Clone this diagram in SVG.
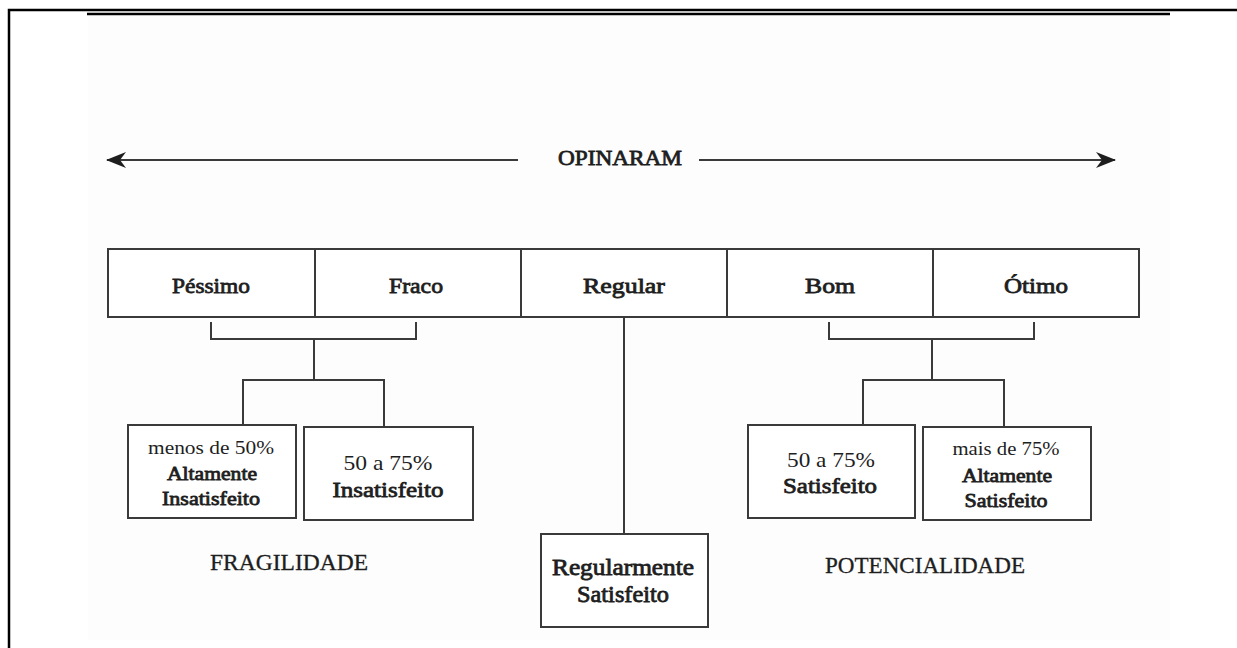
<svg xmlns="http://www.w3.org/2000/svg" width="1237" height="648" viewBox="0 0 1237 648">
<defs>
<style>
.ln{stroke:#3a3a3a;stroke-width:2;fill:none}
.bx{stroke:#3a3a3a;stroke-width:2;fill:#ffffff}
text{font-family:'Liberation Serif','Times New Roman',Times,serif;fill:#1e1e1e;text-anchor:middle;font-weight:normal}
.b{stroke:#1e1e1e;stroke-width:0.8px}
.h{font-size:22px;stroke:#1e1e1e;stroke-width:0.8px}
.m{stroke:#1e1e1e;stroke-width:0.3px}
</style>
<marker id="ah" viewBox="0 0 20 16" refX="19" refY="8" markerWidth="20" markerHeight="16" markerUnits="userSpaceOnUse" orient="auto-start-reverse">
<path d="M0,0 L20,8 L0,16 L6,8 Z" fill="#1e1e1e"/>
</marker>
</defs>
<rect x="0" y="0" width="1237" height="648" fill="#ffffff"/>
<rect x="88" y="16" width="1082" height="624" fill="#fdfdfd"/>
<g id="frame">
<path d="M9,648 V10 H1237" stroke="#000" stroke-width="2.5" fill="none"/>
<line x1="87" y1="14" x2="1170" y2="14" stroke="#000" stroke-width="2.5"/>
</g>
<g id="connectors">
<line class="ln" x1="518" y1="160" x2="107" y2="160" marker-end="url(#ah)"/>
<line class="ln" x1="699" y1="160" x2="1115" y2="160" marker-end="url(#ah)"/>
<path class="ln" d="M211,322 V339 H416 V322 M314,339 V380 M243,425 V380 H384 V427"/>
<path class="ln" d="M829,322 V339 H1034 V322 M932,339 V380 M863,425 V380 H1004 V427"/>
<line class="ln" x1="624" y1="317" x2="624" y2="534"/>
</g>
<g id="opinaram"><text class="h" x="620" y="165" textLength="124" lengthAdjust="spacingAndGlyphs">OPINARAM</text></g>
<g id="scale">
<rect class="bx" x="108" y="249" width="1031" height="68"/>
<line class="ln" x1="315" y1="249" x2="315" y2="317"/>
<line class="ln" x1="521" y1="249" x2="521" y2="317"/>
<line class="ln" x1="727" y1="249" x2="727" y2="317"/>
<line class="ln" x1="933" y1="249" x2="933" y2="317"/>
</g>
<g id="pessimo"><text class="h" x="211" y="293" textLength="78" lengthAdjust="spacingAndGlyphs">Péssimo</text></g>
<g id="fraco"><text class="h" x="416" y="293" textLength="54" lengthAdjust="spacingAndGlyphs">Fraco</text></g>
<g id="regular"><text class="h" x="624" y="293" textLength="82" lengthAdjust="spacingAndGlyphs">Regular</text></g>
<g id="bom"><text class="h" x="830" y="293" textLength="50" lengthAdjust="spacingAndGlyphs">Bom</text></g>
<g id="otimo"><text class="h" x="1036" y="293" textLength="64" lengthAdjust="spacingAndGlyphs">Ótimo</text></g>
<g id="altamente-insatisfeito">
<rect class="bx" x="128" y="425" width="168" height="93"/>
<text x="211" y="454" font-size="18" textLength="126" lengthAdjust="spacingAndGlyphs">menos de 50%</text>
<text class="b" x="212" y="480" font-size="19" textLength="90" lengthAdjust="spacingAndGlyphs">Altamente</text>
<text class="b" x="211" y="505" font-size="19" textLength="98" lengthAdjust="spacingAndGlyphs">Insatisfeito</text>
</g>
<g id="insatisfeito">
<rect class="bx" x="304" y="427" width="169" height="93"/>
<text x="388" y="470" font-size="22" textLength="89" lengthAdjust="spacingAndGlyphs">50 a 75%</text>
<text class="b" x="388" y="497" font-size="22" textLength="111" lengthAdjust="spacingAndGlyphs">Insatisfeito</text>
</g>
<g id="fragilidade"><text class="m" x="289" y="570" font-size="23" textLength="158" lengthAdjust="spacingAndGlyphs">FRAGILIDADE</text></g>
<g id="regularmente-satisfeito">
<rect class="bx" x="541" y="534" width="167" height="93"/>
<text class="b" x="623" y="575" font-size="23" textLength="142" lengthAdjust="spacingAndGlyphs">Regularmente</text>
<text class="b" x="623" y="602" font-size="23" textLength="92" lengthAdjust="spacingAndGlyphs">Satisfeito</text>
</g>
<g id="satisfeito">
<rect class="bx" x="748" y="425" width="167" height="93"/>
<text x="831" y="467" font-size="22" textLength="88" lengthAdjust="spacingAndGlyphs">50 a 75%</text>
<text class="b" x="830" y="493" font-size="22" textLength="94" lengthAdjust="spacingAndGlyphs">Satisfeito</text>
</g>
<g id="altamente-satisfeito">
<rect class="bx" x="923" y="427" width="168" height="93"/>
<text x="1006" y="455" font-size="18" textLength="107" lengthAdjust="spacingAndGlyphs">mais de 75%</text>
<text class="b" x="1007" y="482" font-size="19" textLength="90" lengthAdjust="spacingAndGlyphs">Altamente</text>
<text class="b" x="1006" y="507" font-size="19" textLength="83" lengthAdjust="spacingAndGlyphs">Satisfeito</text>
</g>
<g id="potencialidade"><text class="m" x="925" y="573" font-size="23" textLength="200" lengthAdjust="spacingAndGlyphs">POTENCIALIDADE</text></g>
</svg>
